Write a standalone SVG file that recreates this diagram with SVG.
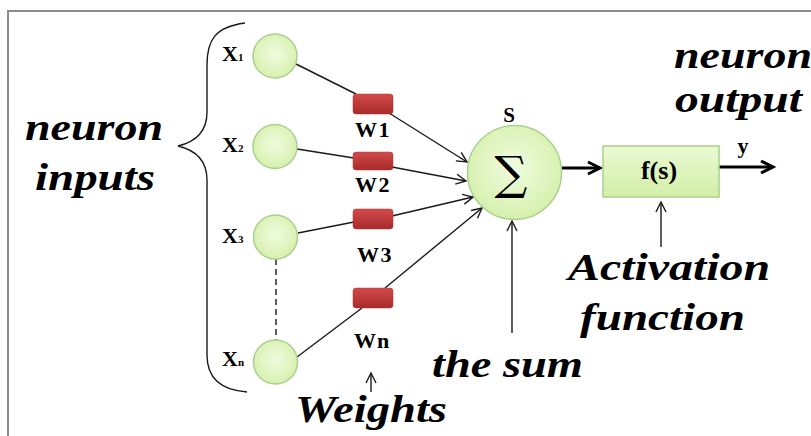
<svg xmlns="http://www.w3.org/2000/svg" width="811" height="436" viewBox="0 0 811 436">
<style>
text{font-family:'Liberation Serif','Times New Roman',serif}
.lbl{font-weight:bold;font-style:italic;font-size:37px;fill:#000}
.sm{font-weight:bold;fill:#000}
.in{fill:url(#gc);stroke:#a9d18e;stroke-width:1.5}
.w{fill:url(#gr);stroke:#b03030;stroke-width:0.5}
.ln{stroke:#1a1a1a;stroke-width:1.4;fill:none}
.thick{stroke:#000;stroke-width:3;fill:none}
</style>
<defs>
<radialGradient id="gc" cx="50%" cy="45%" r="55%">
<stop offset="0" stop-color="#f0fce0"/>
<stop offset="1" stop-color="#d6f0ad"/>
</radialGradient>
<linearGradient id="gb" x1="0" y1="0" x2="0" y2="1">
<stop offset="0" stop-color="#eafad2"/>
<stop offset="1" stop-color="#d2eea8"/>
</linearGradient>
<linearGradient id="gr" x1="0" y1="0" x2="0" y2="1">
<stop offset="0" stop-color="#d24b4b"/>
<stop offset="1" stop-color="#a82a2a"/>
</linearGradient>
<marker id="ah" markerUnits="userSpaceOnUse" markerWidth="14" markerHeight="14" refX="11" refY="6" orient="auto">
<path d="M1,1 L11,6 L1,11" fill="none" stroke="#1a1a1a" stroke-width="1.4"/>
</marker>
<marker id="ahb" markerUnits="userSpaceOnUse" markerWidth="18" markerHeight="18" refX="14" refY="8" orient="auto">
<path d="M2,2 L14,8 L2,14" fill="none" stroke="#000" stroke-width="3"/>
</marker>
</defs>
<rect x="0" y="0" width="811" height="436" fill="#fff"/>
<rect x="8" y="11" width="900" height="500" fill="none" stroke="#8c8c8c" stroke-width="2"/>

<g id="brace">
<path class="ln" d="M245,23 C215,27 207,40 207,65 L207,112 C207,132 195,142 178,146 C195,150 207,160 207,180 L207,355 C207,378 220,390 247,392" stroke="#333"/>
</g>

<g id="connectors">
<line class="ln" x1="296" y1="64" x2="356" y2="94"/>
<line class="ln" x1="297" y1="149" x2="354" y2="158"/>
<line class="ln" x1="298" y1="233" x2="354" y2="222"/>
<line class="ln" x1="297" y1="357" x2="362" y2="308"/>
<line class="ln" x1="276" y1="259" x2="276" y2="340" stroke-dasharray="6,4"/>
<line class="ln" x1="389" y1="113" x2="467" y2="162" marker-end="url(#ah)"/>
<line class="ln" x1="392" y1="167" x2="466" y2="181" marker-end="url(#ah)"/>
<line class="ln" x1="392" y1="216" x2="473" y2="197" marker-end="url(#ah)"/>
<line class="ln" x1="385" y1="288" x2="482" y2="208" marker-end="url(#ah)"/>
<line class="thick" x1="562" y1="168" x2="600" y2="168" marker-end="url(#ahb)"/>
<line class="thick" x1="719" y1="167" x2="773" y2="167" marker-end="url(#ahb)"/>
<line class="ln" x1="661" y1="247" x2="661" y2="202" marker-end="url(#ah)"/>
<line class="ln" x1="512" y1="333" x2="512" y2="221" marker-end="url(#ah)"/>
<line class="ln" x1="371" y1="392" x2="371" y2="373" marker-end="url(#ah)"/>
</g>

<g id="x1"><circle class="in" cx="275" cy="56" r="22"/><text class="sm" x="222" y="61" font-size="22">X<tspan font-size="11">1</tspan></text></g>
<g id="x2"><circle class="in" cx="275" cy="146.5" r="22"/><text class="sm" x="222" y="152" font-size="22">X<tspan font-size="11">2</tspan></text></g>
<g id="x3"><circle class="in" cx="275.5" cy="237" r="22"/><text class="sm" x="222" y="243" font-size="22">X<tspan font-size="11">3</tspan></text></g>
<g id="xn"><circle class="in" cx="275.5" cy="362" r="22"/><text class="sm" x="222" y="366" font-size="22">X<tspan font-size="11">n</tspan></text></g>

<g id="w1"><rect class="w" x="353" y="94" width="40" height="20" rx="3"/><text class="sm" x="355" y="137" font-size="22" letter-spacing="1.5">W1</text></g>
<g id="w2"><rect class="w" x="353" y="152" width="40" height="18" rx="3"/><text class="sm" x="355" y="192" font-size="22" letter-spacing="1.5">W2</text></g>
<g id="w3"><rect class="w" x="353" y="209" width="40" height="20" rx="3"/><text class="sm" x="357" y="262" font-size="22" letter-spacing="1.5">W3</text></g>
<g id="wn"><rect class="w" x="353" y="288" width="40" height="20" rx="3"/><text class="sm" x="354" y="348" font-size="22" letter-spacing="1">Wn</text></g>

<g id="sum">
<circle class="in" cx="514.5" cy="172.5" r="47"/>
<text x="511" y="189" text-anchor="middle" style="font-family:'DejaVu Serif','Liberation Serif',serif" font-size="46" fill="#000">∑</text>
<text class="sm" x="509" y="122" font-size="21" text-anchor="middle">S</text>
</g>

<g id="activation">
<rect x="603" y="146" width="116" height="51" fill="url(#gb)" stroke="#a9d18e" stroke-width="1.5"/>
<text class="sm" x="659" y="179" font-size="26" text-anchor="middle">f(s)</text>
</g>

<g id="output"><text class="sm" x="743" y="153" font-size="22" text-anchor="middle">y</text></g>

<g id="labels">
<text class="lbl" x="25" y="140" textLength="138" lengthAdjust="spacingAndGlyphs">neuron</text>
<text class="lbl" x="35" y="190" textLength="120" lengthAdjust="spacingAndGlyphs">inputs</text>
<text class="lbl" x="674" y="68" textLength="138" lengthAdjust="spacingAndGlyphs">neuron</text>
<text class="lbl" x="675" y="112" textLength="127" lengthAdjust="spacingAndGlyphs">output</text>
<text class="lbl" x="568" y="280" textLength="202" lengthAdjust="spacingAndGlyphs">Activation</text>
<text class="lbl" x="580" y="330" textLength="165" lengthAdjust="spacingAndGlyphs">function</text>
<text class="lbl" x="432" y="377" textLength="151" lengthAdjust="spacingAndGlyphs">the sum</text>
<text class="lbl" x="295" y="422" textLength="152" lengthAdjust="spacingAndGlyphs">Weights</text>
</g>
</svg>
